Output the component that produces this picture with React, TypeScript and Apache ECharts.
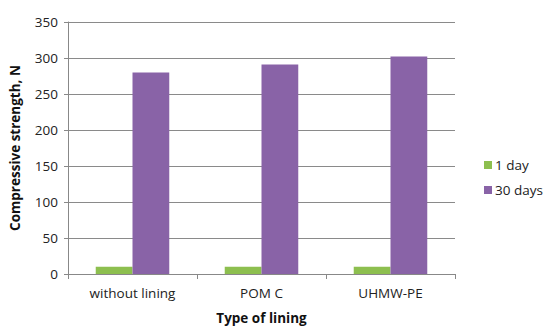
import React, { useEffect, useRef } from "react";
import * as echarts from "echarts";

const categories = ["without lining", "POM C", "UHMW-PE"];
const day1 = [10, 10, 10];
const day30 = [280, 291, 302];
const seriesNames = ["1 day", "30 days"];

export default function App() {
  const ref = useRef<HTMLDivElement>(null);
  useEffect(() => {
    const chart = echarts.init(ref.current!, null, { renderer: "svg" });
    const font = "'Open Sans', sans-serif";
    chart.setOption({
      animation: false,
      backgroundColor: "#ffffff",
      textStyle: { fontFamily: font },
      grid: { left: 68, top: 22, right: 95, bottom: 61, containLabel: false },
      legend: {
        orient: "vertical",
        left: 479,
        top: 153,
        itemWidth: 8,
        itemHeight: 8,
        itemGap: 11,
        icon: "rect",
        textStyle: { fontSize: 13.5, color: "#222", fontFamily: font, padding: [0, 0, 0, -2] },
        data: seriesNames,
      },
      xAxis: {
        type: "category",
        data: categories,
        name: "Type of lining",
        nameLocation: "middle",
        nameGap: 37,
        nameTextStyle: { fontSize: 13.5, fontWeight: "bold", color: "#111", fontFamily: font },
        axisLine: { lineStyle: { color: "#888", width: 1 } },
        axisTick: { show: true, length: 5, lineStyle: { color: "#888" } },
        axisLabel: { fontSize: 13.5, color: "#222", margin: 12, fontFamily: font },
      },
      yAxis: {
        type: "value",
        min: 0,
        max: 350,
        interval: 50,
        name: "Compressive strength, N",
        nameLocation: "middle",
        nameGap: 46,
        nameRotate: 90,
        nameTextStyle: { fontSize: 13.5, fontWeight: "bold", color: "#111", fontFamily: font },
        axisLine: { show: true, lineStyle: { color: "#888", width: 1 } },
        axisTick: { show: true, length: 4, lineStyle: { color: "#888" } },
        axisLabel: { fontSize: 13.5, color: "#222", margin: 10, fontFamily: font },
        splitLine: { lineStyle: { color: "#8a8a8a", width: 1 } },
      },
      series: [
        {
          name: seriesNames[0],
          type: "bar",
          data: day1,
          barGap: "0%",
          barCategoryGap: "43%",
          itemStyle: { color: "#8DBF4F" },
        },
        {
          name: seriesNames[1],
          type: "bar",
          data: day30,
          barGap: "0%",
          barCategoryGap: "43%",
          itemStyle: { color: "#8963A7" },
        },
      ],
    });
    return () => chart.dispose();
  }, []);
  return <div ref={ref} style={{ width: 550, height: 335, position: "absolute", left: 0, top: 0 }} />;
}
